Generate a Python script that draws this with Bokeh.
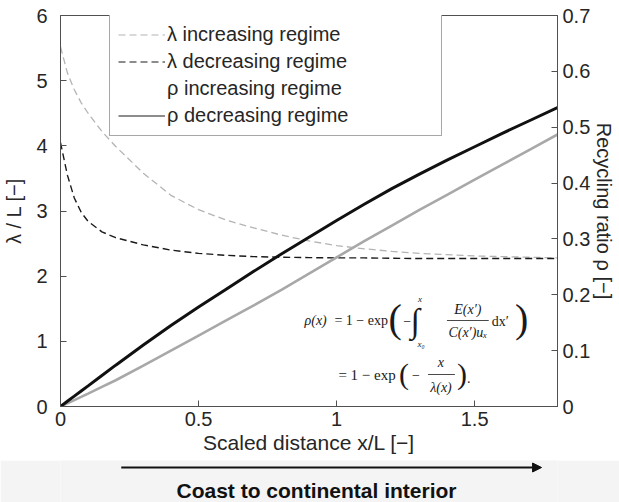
from bokeh.plotting import figure
from bokeh.models import (Range1d, LinearAxis, FixedTicker, Legend, LegendItem,
                          Label, Arrow, NormalHead, ColumnDataSource)
from bokeh.layouts import column
from bokeh.embed import file_html
from bokeh.resources import INLINE

# ---------------- data ----------------
x_scaled = [0, 0.025, 0.05, 0.075, 0.1, 0.15, 0.2, 0.3, 0.4, 0.5, 0.6, 0.7,
            0.8, 0.9, 1.0, 1.1, 1.2, 1.3, 1.4, 1.5, 1.6, 1.7, 1.8]
lambda_increasing = [5.52, 5.12, 4.86, 4.66, 4.50, 4.22, 3.99, 3.58, 3.24, 3.02, 2.86, 2.74,
                     2.63, 2.54, 2.47, 2.42, 2.38, 2.35, 2.33, 2.31, 2.30, 2.29, 2.28]
lambda_decreasing = [4.05, 3.55, 3.20, 2.98, 2.84, 2.68, 2.59, 2.48, 2.40, 2.35, 2.32, 2.30,
                     2.29, 2.285, 2.28, 2.28, 2.275, 2.27, 2.27, 2.27, 2.27, 2.27, 2.27]
rho_increasing = [0, 0.0057, 0.0115, 0.0172, 0.023, 0.035, 0.047, 0.073, 0.100, 0.127, 0.154, 0.181,
                  0.209, 0.238, 0.267, 0.296, 0.324, 0.352, 0.379, 0.406, 0.433, 0.460, 0.487]
rho_decreasing = [0, 0.0093, 0.0185, 0.0278, 0.037, 0.0555, 0.074, 0.110, 0.145, 0.178, 0.210, 0.242,
                  0.273, 0.303, 0.333, 0.362, 0.390, 0.416, 0.441, 0.465, 0.489, 0.512, 0.535]

x_ticks = [0, 0.5, 1, 1.5]
x_tick_labels = ["0", "0.5", "1", "1.5"]
lam_ticks = [0, 1, 2, 3, 4, 5, 6]
lam_tick_labels = ["0", "1", "2", "3", "4", "5", "6"]
rho_ticks = [0, 0.1, 0.2, 0.3, 0.4, 0.5, 0.6, 0.7]
rho_tick_labels = ["0", "0.1", "0.2", "0.3", "0.4", "0.5", "0.6", "0.7"]
legend_labels = ["λ increasing regime", "λ decreasing regime",
                 "ρ increasing regime", "ρ decreasing regime"]

SANS = "Liberation Sans"
SERIF = "Liberation Serif"
AX = "#505050"
TXT = "#262626"

W, H1, H2 = 619, 460, 42
LB, RB, TB, BB = 58, 62, 15, 54
FW = W - LB - RB
FH = H1 - TB - BB

p = figure(width=W, height=H1, output_backend="svg", toolbar_location=None,
           x_range=Range1d(0, 1.8), y_range=Range1d(0, 6),
           min_border_left=LB, min_border_right=RB, min_border_top=TB,
           min_border_bottom=BB)
p.extra_y_ranges = {"rho": Range1d(0, 0.7)}
p.grid.visible = False
p.outline_line_color = AX
p.outline_line_width = 1
p.background_fill_color = "white"
p.border_fill_color = "white"

src = ColumnDataSource(dict(x=x_scaled, li=lambda_increasing, ld=lambda_decreasing,
                            ri=rho_increasing, rd=rho_decreasing))

p.line("x", "li", source=src, line_color="#b4b4b4", line_width=1.3, line_dash="7 4")
p.line("x", "ld", source=src, line_color="#1a1a1a", line_width=1.4, line_dash="7 4")
p.line("x", "ri", source=src, line_color="#a8a8a8", line_width=2.6, y_range_name="rho")
p.line("x", "rd", source=src, line_color="#111111", line_width=3, y_range_name="rho")

# axes styling
def style_axis(ax, ticks, labels, standoff, label_standoff):
    ax.ticker = FixedTicker(ticks=ticks)
    ax.major_label_overrides = {t: l for t, l in zip(ticks, labels)}
    ax.major_tick_in = 6
    ax.major_tick_out = 0
    ax.minor_tick_line_color = None
    ax.axis_line_color = AX
    ax.major_tick_line_color = AX
    ax.major_label_text_font = SANS
    ax.major_label_text_font_size = "20px"
    ax.major_label_text_color = TXT
    ax.major_label_standoff = standoff
    ax.axis_label_text_font = SANS
    ax.axis_label_text_font_style = "normal"
    ax.axis_label_text_color = TXT
    ax.axis_label_standoff = label_standoff

xa = p.xaxis[0]
style_axis(xa, x_ticks, x_tick_labels, 5, 2)
xa.axis_label = "Scaled distance x/L [−]"
xa.axis_label_text_font_size = "21px"

ya = p.yaxis[0]
style_axis(ya, lam_ticks, lam_tick_labels, 13, 8)
ya.axis_label = "λ / L [−]"
ya.axis_label_text_font_size = "20px"

ra = LinearAxis(y_range_name="rho")
style_axis(ra, rho_ticks, rho_tick_labels, 5, 0)
ra.axis_label = "Recycling ratio ρ [−]"
ra.axis_label_text_font_size = "20px"
p.add_layout(ra, "right")

# legend sample renderers (no visible data; styles as in the original legend)
nan = float("nan")
g1 = p.line(x=[nan, nan], y=[nan, nan], line_color="#b4b4b4", line_width=1.2, line_dash="7 4")
g2 = p.line(x=[nan, nan], y=[nan, nan], line_color="#1a1a1a", line_width=1.2, line_dash="7 4")
g3 = p.line(x=[nan, nan], y=[nan, nan], line_color="#ffffff", line_width=1.0, line_alpha=0)
g4 = p.line(x=[nan, nan], y=[nan, nan], line_color="#1a1a1a", line_width=1.0)
legend = Legend(items=[LegendItem(label=legend_labels[0], renderers=[g1], index=0),
                       LegendItem(label=legend_labels[1], renderers=[g2], index=0),
                       LegendItem(label=legend_labels[2], renderers=[g3], index=0),
                       LegendItem(label=legend_labels[3], renderers=[g4], index=0)],
                location=(107 - LB, FH - 121), margin=0,
                padding=8, spacing=4, glyph_width=47, glyph_height=23,
                label_height=23, label_width=266, label_standoff=2,
                label_text_font=SANS, label_text_font_size="20px",
                label_text_color=TXT, border_line_color=AX, border_line_width=1,
                background_fill_color="white", background_fill_alpha=1.0)
p.add_layout(legend)

# formula annotation (placed by pixel position inside the frame)
def dx(px):
    return (px - LB) * 1.8 / FW

def dy(py):
    return (TB + FH - py) * 6 / FH

def lab(px, py, text, size, align="left", style="normal", font=SERIF):
    p.add_layout(Label(x=dx(px), y=dy(py), text=text, text_font=font,
                       text_font_size=size, text_font_style=style,
                       text_align=align, text_baseline="middle", text_color="#1a1a1a"))

def bar(px0, px1, py):
    p.add_layout(Arrow(start=None, end=None, x_start=dx(px0), y_start=dy(py),
                       x_end=dx(px1), y_end=dy(py), line_width=0.8,
                       line_color="#1a1a1a"))

# line 1
lab(303, 320, "ρ(x)", "14px", style="italic")
lab(333, 320, "= 1 − exp", "14px")
lab(394, 318, "(", "40px", align="center")
lab(406, 320, "−", "14px", align="center")
lab(414, 320, "∫", "34px", align="center")
lab(419, 298, "x", "9px", align="center", style="italic")
lab(420, 343, "x₀", "9px", align="center", style="italic")
lab(467, 309, "E(x′)", "14px", align="center", style="italic")
bar(446, 488, 320)
lab(467, 332, "C(x′)uₓ", "14px", align="center", style="italic")
lab(491, 321, "dx′", "14px")
lab(521, 318, ")", "40px", align="center")

# line 2
lab(337, 374, "= 1 − exp", "15px")
lab(403, 373, "(", "30px", align="center")
lab(415, 374, "−", "14px", align="center")
lab(440, 362, "x", "14px", align="center", style="italic")
bar(427, 454, 374)
lab(440, 387, "λ(x)", "14px", align="center", style="italic")
lab(461, 373, ")", "30px", align="center")
lab(468, 377, ".", "14px", align="center")

# bottom strip with arrow and caption (frame aligned with the plot above,
# so its x range is given in page pixels of that frame)
q = figure(width=W, height=H2, output_backend="svg", toolbar_location=None,
           x_range=Range1d(LB, W - RB), y_range=Range1d(0, H2),
           min_border=0, x_axis_type=None, y_axis_type=None)
q.grid.visible = False
q.outline_line_color = None
q.background_fill_color = "#f4f4f4"
q.border_fill_color = "#f4f4f4"
q.add_layout(Arrow(end=NormalHead(size=9, fill_color="#111111", line_color="#111111"),
                   x_start=119, y_start=H2 - 7, x_end=541, y_end=H2 - 7,
                   line_width=1.8, line_color="#111111"))
q.add_layout(Label(x=315, y=H2 - 30, text="Coast to continental interior",
                   text_font=SANS, text_font_style="bold", text_font_size="21px",
                   text_align="center", text_baseline="middle", text_color="#111111"))

layout = column(p, q, spacing=0)
open("out.html", "w").write(file_html(layout, INLINE))
